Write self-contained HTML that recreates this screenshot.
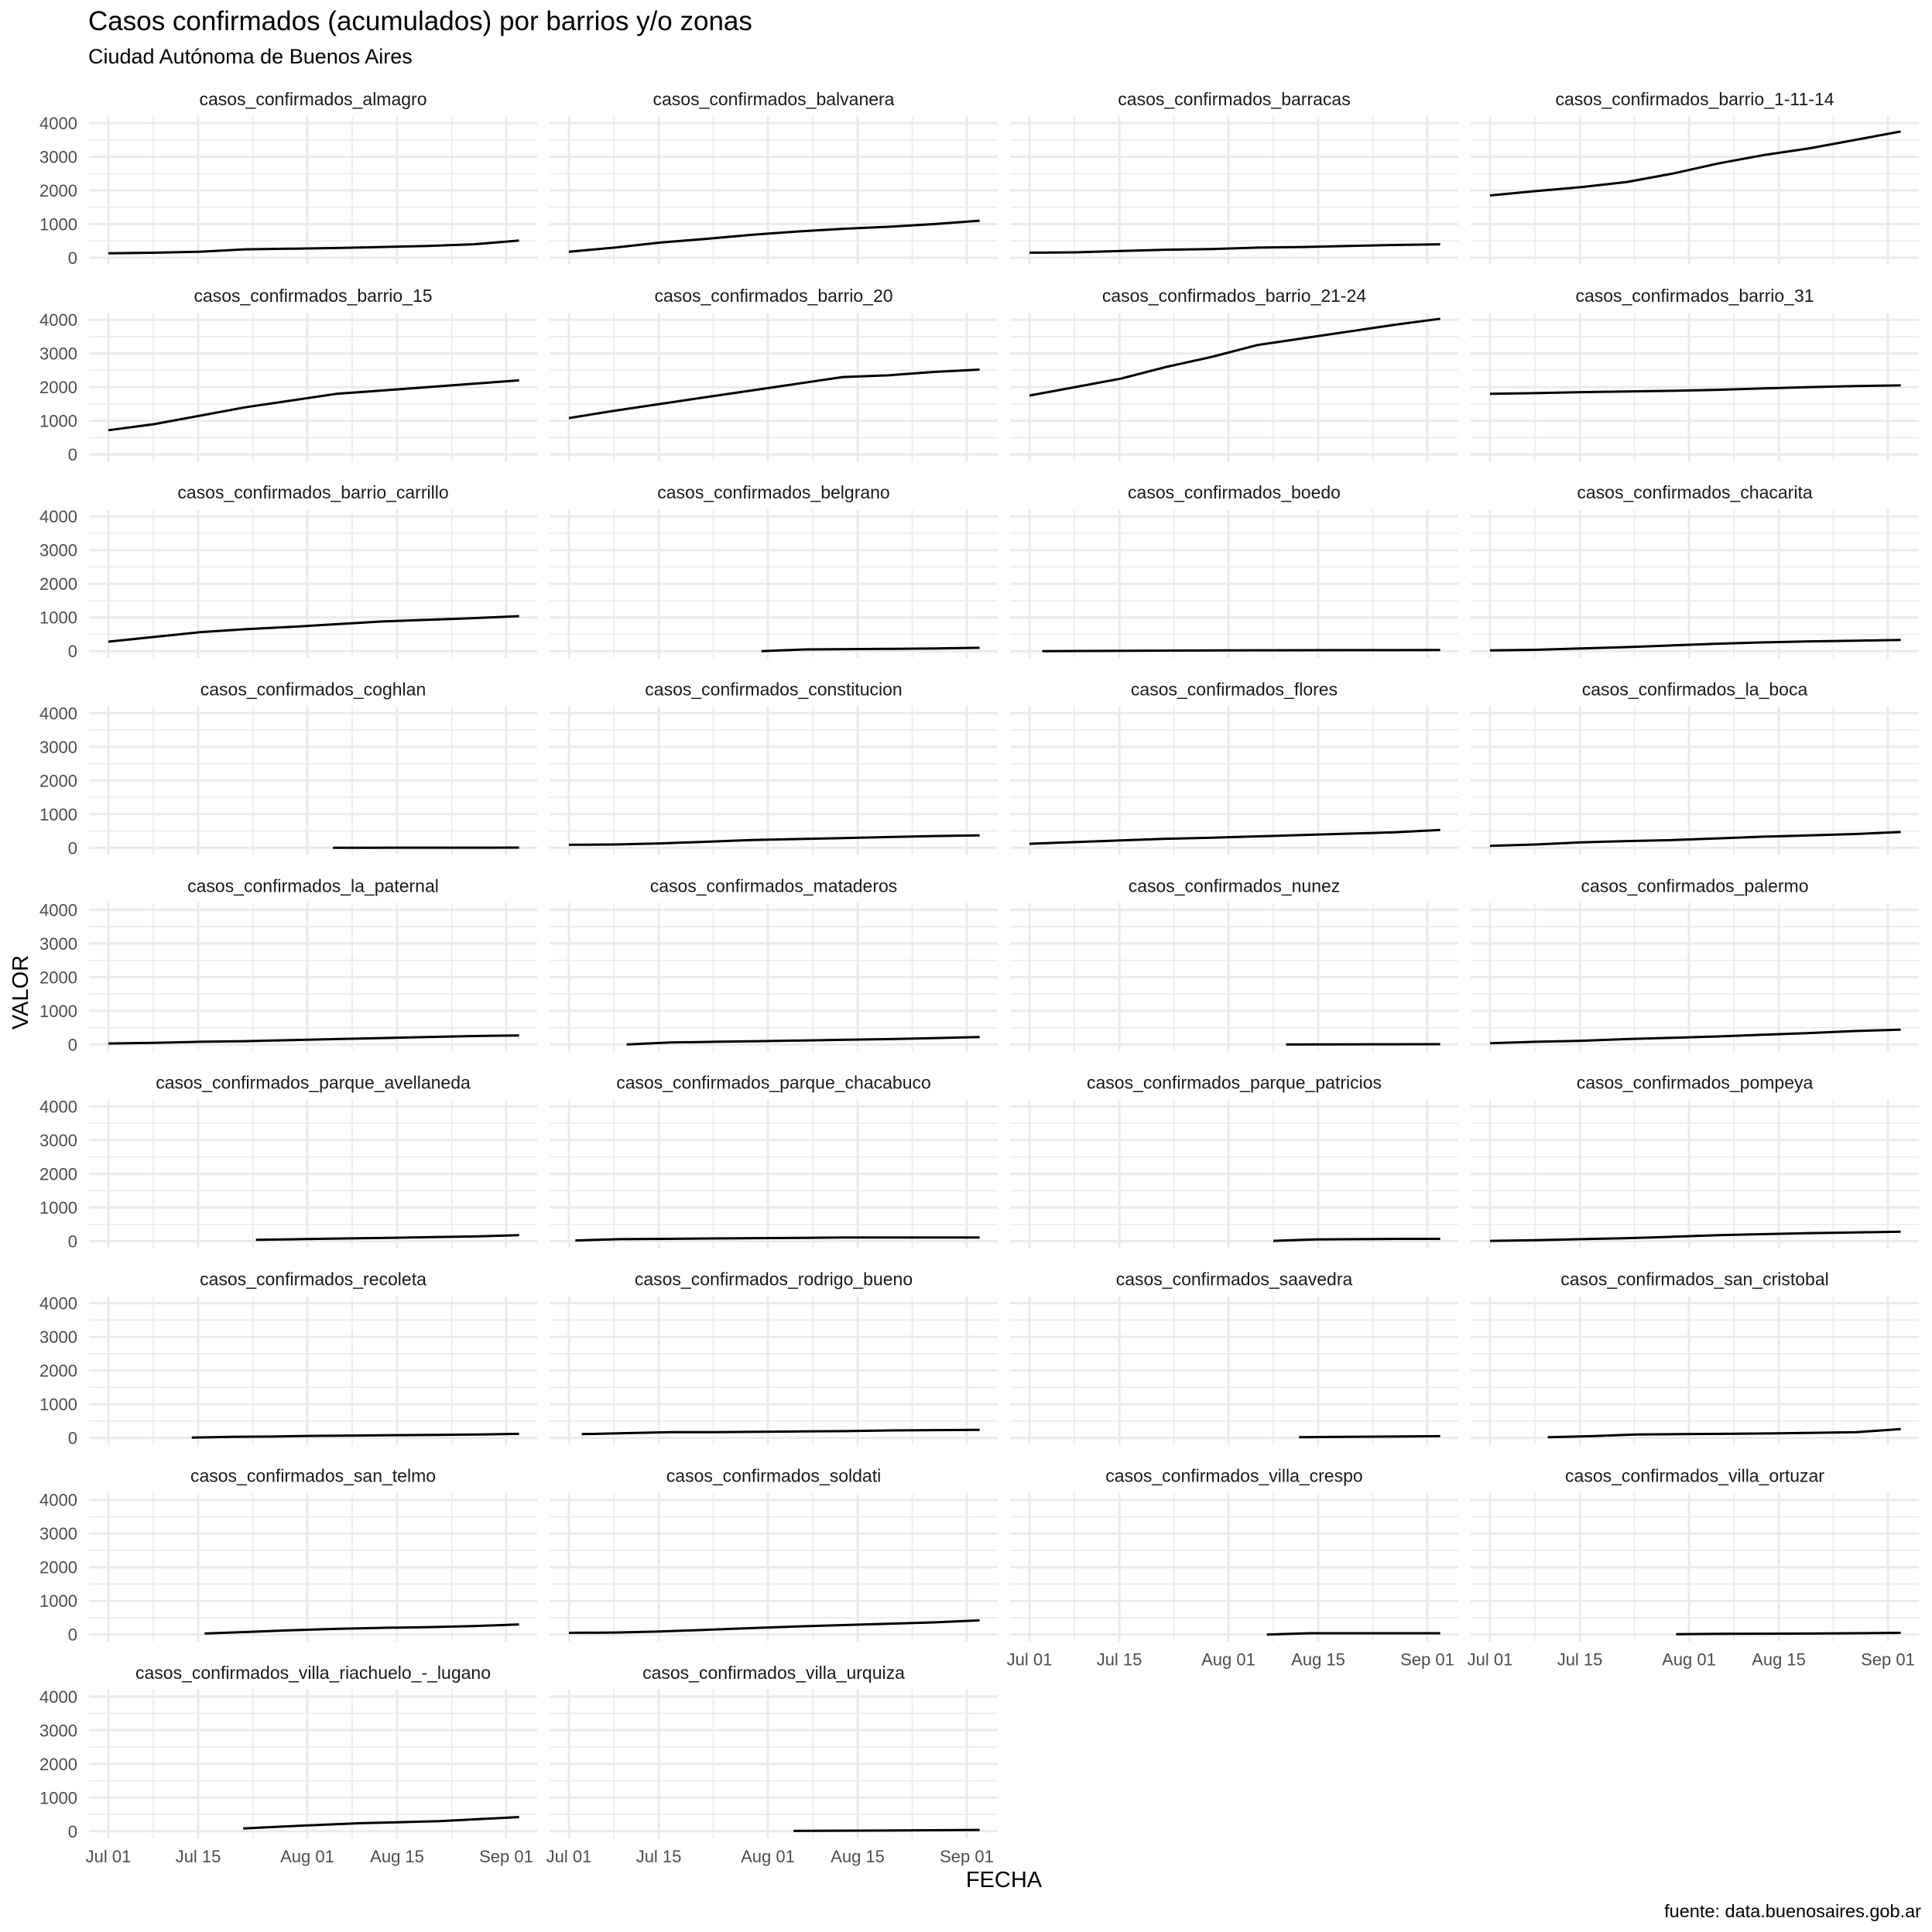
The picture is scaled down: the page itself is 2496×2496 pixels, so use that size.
<!DOCTYPE html>
<html><head><meta charset="utf-8"><style>
html,body{margin:0;padding:0;background:#fff;}
svg{display:block;font-family:"Liberation Sans",Arial,sans-serif;}
</style></head><body>
<svg id="chart" width="2496" height="2496" viewBox="0 0 2496 2496" xmlns="http://www.w3.org/2000/svg">
<text x="114" y="39" font-size="35" fill="#000">Casos confirmados (acumulados) por barrios y/o zonas</text>
<text x="114" y="82" font-size="27" fill="#000">Ciudad Autónoma de Buenos Aires</text>
<text x="1297" y="2438" font-size="29" text-anchor="middle" fill="#000">FECHA</text>
<text x="36" y="1282" font-size="29" text-anchor="middle" fill="#000" transform="rotate(-90 36 1282)">VALOR</text>
<text x="2482" y="2477" font-size="23.5" text-anchor="end" fill="#000">fuente: data.buenosaires.gob.ar</text>
</svg>
<script>
const names = ["almagro","balvanera","barracas","barrio_1-11-14","barrio_15","barrio_20","barrio_21-24","barrio_31","barrio_carrillo","belgrano","boedo","chacarita","coghlan","constitucion","flores","la_boca","la_paternal","mataderos","nunez","palermo","parque_avellaneda","parque_chacabuco","parque_patricios","pompeya","recoleta","rodrigo_bueno","saavedra","san_cristobal","san_telmo","soldati","villa_crespo","villa_ortuzar","villa_riachuelo_-_lugano","villa_urquiza"];
const startDays = [0,0,0,0,0,0,0,0,0,30,2,0,35,0,0,0,0,9,40,0,23,1,38,0,13,2,42,9,15,0,37,29,21,35];
const endDay = 64;
const values = [
[130,150,180,250,270,290,320,350,400,510],
[180,300,450,560,680,780,860,920,1000,1100],
[150,160,200,240,260,300,320,350,380,400],
[1850,1980,2100,2250,2500,2800,3050,3250,3500,3750],
[720,900,1150,1400,1600,1800,1900,2000,2100,2200],
[1080,1300,1500,1700,1900,2100,2300,2350,2450,2520],
[1750,2000,2250,2600,2900,3250,3450,3650,3850,4030],
[1800,1820,1850,1870,1890,1920,1960,2000,2030,2050],
[280,420,560,650,720,800,880,930,980,1040],
[0,50,60,70,80,100],
[0,5,10,15,20,25,28,30,30,32],
[20,40,80,120,170,220,260,290,310,330],
[0,3,4,5,5,6],
[90,100,130,180,230,260,290,320,350,370],
[120,170,220,270,300,340,380,420,460,530],
[60,100,160,200,230,280,330,370,410,470],
[30,50,80,100,130,160,190,220,250,270],
[0,60,80,100,120,140,160,190,220],
[0,5,8,10],
[40,80,110,160,200,240,290,340,400,440],
[40,60,80,100,120,140,180],
[20,60,70,80,90,100,110,110,110,110],
[10,50,60,70,70],
[10,30,60,90,130,180,210,240,260,280],
[10,30,40,60,70,80,90,100,120],
[110,140,170,170,180,190,200,220,230,240],
[20,30,40,50],
[20,50,100,110,120,130,150,170,260],
[30,80,130,170,200,220,250,300],
[50,60,90,140,190,240,280,320,360,420],
[0,40,40,40,40],
[10,20,25,30,40,50],
[80,140,190,240,270,300,360,420],
[10,15,20,30,40]
];
const yTicks = [0,1000,2000,3000,4000];
const yMinor = [500,1500,2500,3500];
const xTickDays = [0,14,31,45,62];
const xTickLabels = ["Jul 01","Jul 15","Aug 01","Aug 15","Sep 01"];
const xMinorDays = [7,22.5,38,53.5];

const NS="http://www.w3.org/2000/svg";
const svg=document.getElementById('chart');
const PW=579, PH=192, COLS=4;
function el(tag,attrs,parent){const e=document.createElementNS(NS,tag);for(const k in attrs)e.setAttribute(k,attrs[k]);(parent||svg).appendChild(e);return e;}
function panelLeft(c){return 115+c*595;}
function panelTop(r){return 150+r*254.1;}
function xScale(c,d){return panelLeft(c)+25+d*8.29;}
function yScale(r,v){return panelTop(r)+183-v*174/4000;}

const n=names.length;
for(let i=0;i<n;i++){
  const r=Math.floor(i/COLS), c=i%COLS;
  const g=el('g',{});
  
  
  const L=panelLeft(c), T=panelTop(r);
  yMinor.forEach(v=>{const y=yScale(r,v);el('line',{x1:L,x2:L+PW,y1:y,y2:y,stroke:'#ebebeb','stroke-width':1.6},g);});
  xMinorDays.forEach(d=>{const x=xScale(c,d);el('line',{x1:x,x2:x,y1:T,y2:T+PH,stroke:'#ebebeb','stroke-width':1.6},g);});
  yTicks.forEach(v=>{const y=yScale(r,v);el('line',{x1:L,x2:L+PW,y1:y,y2:y,stroke:'#ebebeb','stroke-width':3},g);});
  xTickDays.forEach(d=>{const x=xScale(c,d);el('line',{x1:x,x2:x,y1:T,y2:T+PH,stroke:'#ebebeb','stroke-width':3},g);});
  const st=el('text',{x:L+PW/2,y:T-14,'font-size':23,'text-anchor':'middle',fill:'#1a1a1a'},g);
  
  
  st.textContent='casos_confirmados_'+names[i];
  if(c===0){
    yTicks.forEach(v=>{const t=el('text',{x:100,y:yScale(r,v)+8,'font-size':22,'text-anchor':'end',fill:'#4d4d4d'},g);
      
      
      t.textContent=String(v);});
  }
  const below=i+COLS;
  if(below>=n){
    xTickDays.forEach((d,k)=>{const t=el('text',{x:xScale(c,d),y:T+PH+31,'font-size':22,'text-anchor':'middle',fill:'#4d4d4d'},g);
      
      
      t.textContent=xTickLabels[k];});
  }
  const vals=values[i], s=startDays[i], m=vals.length;
  const pts=vals.map((v,k)=>{const d=s+(endDay-s)*k/(m-1);return xScale(c,d).toFixed(1)+','+yScale(r,v).toFixed(1);});
  const pl=el('polyline',{points:pts.join(' '),fill:'none',stroke:'#000','stroke-width':3,'stroke-linejoin':'round'},g);
  
  
}
</script>
</body></html>
